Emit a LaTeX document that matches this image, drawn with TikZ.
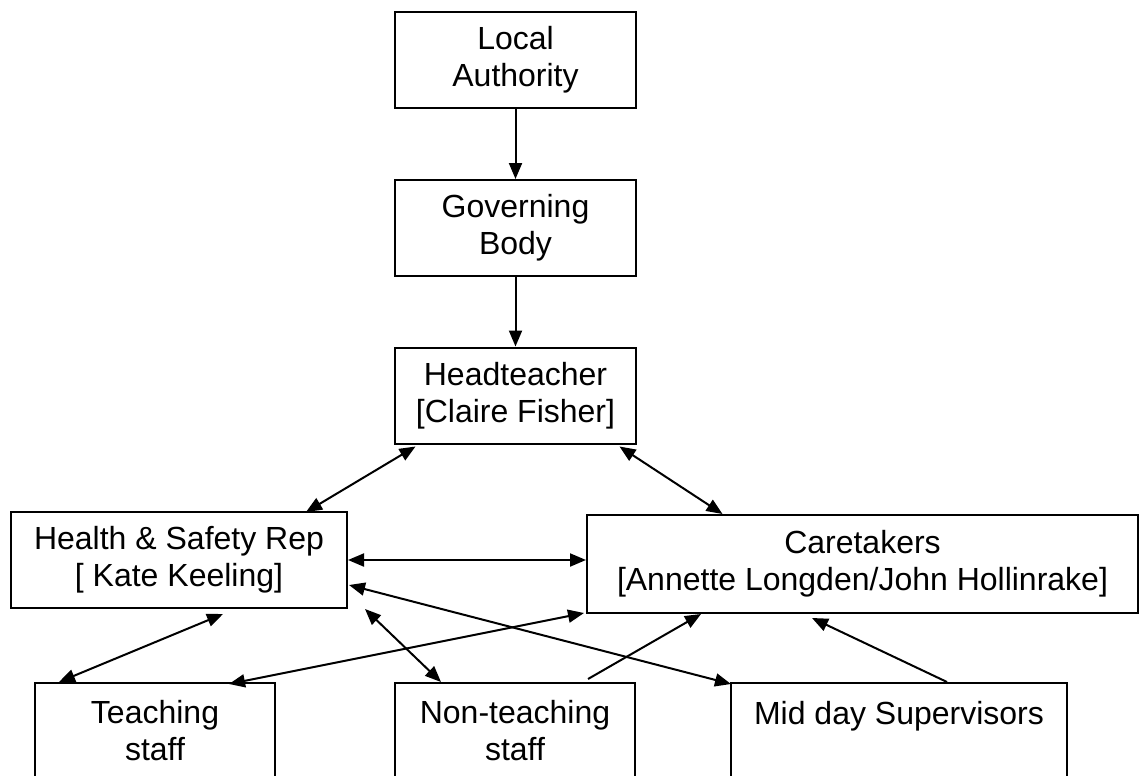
\documentclass[tikz,border=0pt]{standalone}
\usepackage{fontspec}
\setmainfont{Liberation Sans}
\usetikzlibrary{arrows.meta,calc}

\begin{document}
\begin{tikzpicture}[x=0.5pt,y=-0.5pt,line width=1pt,>={Triangle[length=8pt,width=6.5pt]}]
  \tikzstyle{box}=[rectangle,draw=black,fill=white,align=center,inner sep=0pt,
                   font=\fontsize{16pt}{18.5pt}\selectfont,minimum height=48pt]

  \clip (0,0) rectangle (1140,776);
  \fill[white] (0,0) rectangle (1140,776);

  \foreach \name/\y/\text in {LA/59.5/{Local\\Authority}, GB/228/{Governing\\Body},
                              HT/395.5/{Headteacher\\{[Claire Fisher]}}}
    \node[box,minimum width=120.5pt] (\name) at (515.5,\y) {\text};

  \node[box,minimum width=168pt] (HS) at (179,560) {Health \& Safety Rep\\{[ Kate Keeling]}};
  \node[box,minimum width=275.5pt,minimum height=49pt] (CT) at (862.5,564)
    {Caretakers\\{[Annette Longden/John Hollinrake]}};

  \foreach \name/\x/\w/\text in {TS/155/120/{Teaching\\staff}, NT/515/120/{Non-teaching\\staff},
                                 MD/899/168/{Mid day Supervisors\\\mbox{}}}
    \node[box,minimum width=\w pt] (\name) at (\x,731) {\text};

  \foreach \from/\to in {LA/GB,GB/HT}
    \draw[->] (\from) -- (\to);

  \draw[<->] ($(HT.south)+(-100,2)$) -- ($(HS.north)+(127,1)$);
  \draw[<->] ($(HT.south)+(104,2)$) -- ($(CT.north)+(-140,0)$);
  \draw[<->] (HS.east) -- (HS.east -| CT.west);
  \draw[<->] ($(HS.south)+(44,5)$) -- ($(TS.north)+(-96,0)$);
  \draw[<->] ($(CT.south west)+(-2,-1)$) -- ($(TS.north)+(74,2)$);
  \draw[<->] ($(HS.south east)+(17,0)$) -- ($(NT.north)+(-74,0)$);
  \draw[<->] ($(HS.east)+(1,25)$) -- ($(MD.north west)+(1,2)$);
  \draw[->] ($(NT.north)+(73,-3)$) -- ($(CT.south)+(-161.5,0)$);
  \draw[->] ($(MD.north)+(48,0)$) -- ($(CT.south)+(-50.5,4)$);
%  \draw (TS) -- (MD);
\end{tikzpicture}
\end{document}
